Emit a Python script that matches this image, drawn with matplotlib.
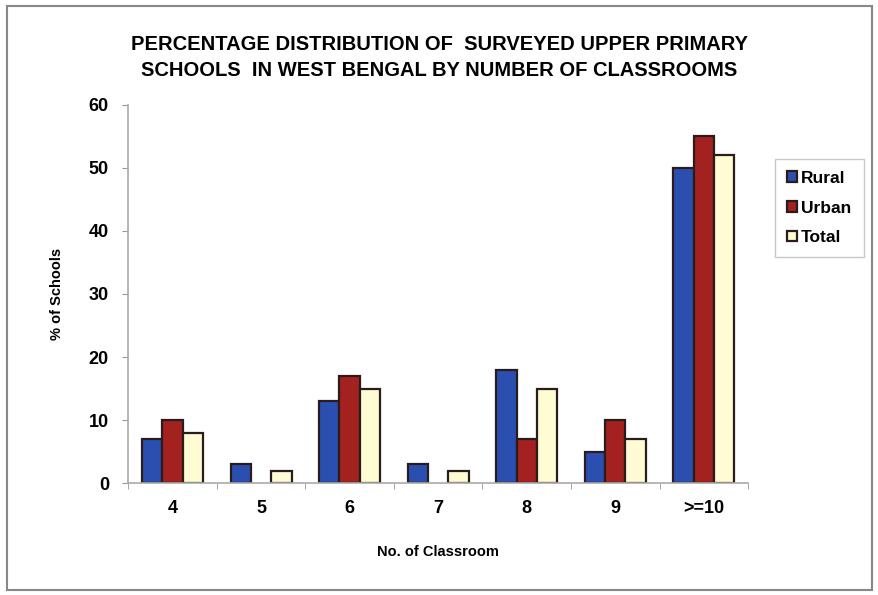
import numpy as np
import matplotlib
matplotlib.use("Agg")
import matplotlib.pyplot as plt
from matplotlib.patches import Rectangle

plt.rcParams['font.family'] = ['Liberation Sans', 'DejaVu Sans']

categories = ['4', '5', '6', '7', '8', '9', '>=10']
rural = [7, 3, 13, 3, 18, 5, 50]
urban = [10, 0, 17, 0, 7, 10, 55]
total = [8, 2, 15, 2, 15, 7, 52]

series = [('Rural', rural, '#2b4fb0'),
          ('Urban', urban, '#a3221f'),
          ('Total', total, '#fffbd2')]

fig = plt.figure(figsize=(8.79, 5.95), dpi=100)
ax = fig.add_axes([0.146, 0.188, 0.705, 0.636])

x = np.arange(len(categories))
w = 0.23
for i, (name, vals, col) in enumerate(series):
    vals = np.array(vals, dtype=float)
    ax.bar(x + (i - 1) * w, np.where(vals > 0, vals, np.nan), width=w,
           color=col, edgecolor='#2a1c1c', linewidth=1.6, label=name)

ax.set_xlim(-0.5, len(categories) - 0.5)
ax.set_ylim(0, 60)
ax.set_yticks(range(0, 61, 10))
ax.set_xticks(x)
ax.set_xticklabels(categories, fontsize=13, fontweight='bold')
for lbl in ax.get_yticklabels():
    lbl.set_fontsize(13)
    lbl.set_fontweight('bold')
ax.set_xticks(np.arange(-0.5, len(categories)), minor=True)
ax.tick_params(axis='x', which='major', length=0, pad=12)
ax.tick_params(axis='x', which='minor', length=4, color='#999999')
ax.tick_params(axis='y', length=4, color='#999999', pad=10)

for s in ['top', 'right']:
    ax.spines[s].set_visible(False)
for s in ['left', 'bottom']:
    ax.spines[s].set_color('#aaaaaa')
    ax.spines[s].set_linewidth(1.2)

ax.set_xlabel('No. of Classroom', fontsize=10.5, fontweight='bold', labelpad=20)
ax.set_ylabel('% of Schools', fontsize=10.5, fontweight='bold', labelpad=18)

fig.text(0.5, 0.903, 'PERCENTAGE DISTRIBUTION OF  SURVEYED UPPER PRIMARY\nSCHOOLS  IN WEST BENGAL BY NUMBER OF CLASSROOMS',
         ha='center', va='center', fontsize=14.5, fontweight='bold', linespacing=1.45)

leg = fig.legend(loc='upper left', bbox_to_anchor=(0.872, 0.748), frameon=True,
                 prop={'size': 12.5, 'weight': 'bold'}, handlelength=0.55, handleheight=0.55,
                 handletextpad=0.25, labelspacing=0.85, borderpad=0.7, fancybox=False)
leg.get_frame().set_edgecolor('#bbbbbb')
leg.get_frame().set_linewidth(1.0)

fig.patches.append(Rectangle((0.008, 0.008), 0.984, 0.982, transform=fig.transFigure,
                             fill=False, edgecolor='#888888', linewidth=1.5))

fig.savefig('out.png', dpi=100)
